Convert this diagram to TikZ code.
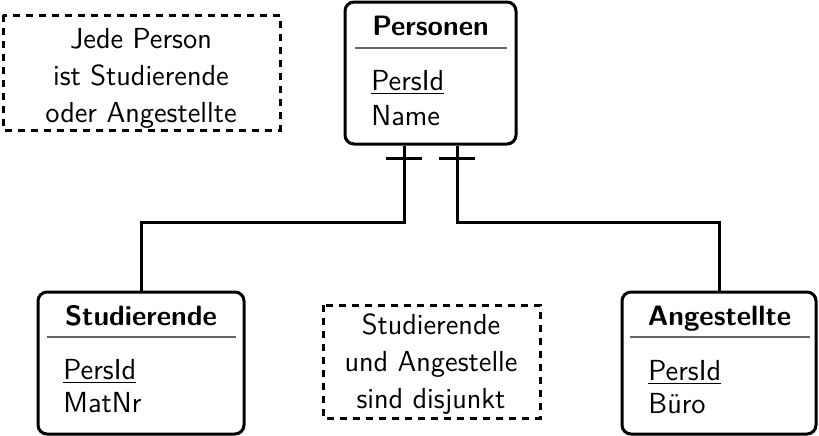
\documentclass[tikz,border=0pt]{standalone}
\usetikzlibrary{calc}
\renewcommand{\familydefault}{\sfdefault}
\begin{document}
\begin{tikzpicture}[x=0.5pt,y=-0.5pt,
  entity/.style={draw, line width=1.5pt, rounded corners=4.5pt, inner sep=0pt},
  notebox/.style={line width=1.5pt, dash pattern=on 3.5pt off 3pt},
  note/.style={inner sep=0pt, align=center,
    font=\fontsize{14.5}{18.5}\selectfont},
  ttl/.style={anchor=base, inner sep=0pt, font=\fontsize{14}{17}\selectfont\bfseries},
  attr/.style={anchor=base west, inner sep=0pt, font=\fontsize{14.5}{17}\selectfont},
  sep/.style={draw=black!60, line width=0.6pt},
  conn/.style={line width=1.5pt},
  bar/.style={line width=1.5pt}]
\useasboundingbox (0,0) rectangle (819,435);
% entities
\node[entity, minimum width=85.5pt, minimum height=71pt] (pers) at (430.5,73) {};
\node[entity, minimum width=103pt, minimum height=71pt] (stud) at (141,363) {};
\node[entity, minimum width=97pt, minimum height=71pt] (ang) at (719,363) {};
% titles
\node[ttl] (perst) at (430.5,35) {Personen};
\node[ttl] (studt) at (141,325) {Studierende};
\node[ttl] (angt) at (719.5,325) {Angestellte};
\draw[sep] (355,48) -- (507,48);
\draw[sep] (47,337) -- (236,337);
\draw[sep] (630,337) -- (810,337);
% attributes
\node[attr] (pid1) at (371,90) {\underline{PersId}};
\node[attr] (pname) at (371,125) {Name};
\node[attr] (pid2) at (63,379) {\underline{PersId}};
\node[attr] (matnr) at (63,412) {MatNr};
\node[attr] (pid3) at (648,380) {\underline{PersId}};
\node[attr] (buero) at (648,413) {Büro};
% notes
\node[note] (n1) at (141,78) {Jede Person\\ist Studierende\\oder Angestellte};
\draw[notebox] (3,15) rectangle (280,130);
\node[note] (n2) at (431,364) {Studierende\\und Angestelle\\sind disjunkt};
\draw[notebox] (323,305) rectangle (540,418);
% connectors
\coordinate (pl) at ($(pers.south)+(-26.5,0)$);
\coordinate (pr) at ($(pers.south)+(26.5,0)$);
\draw[conn] (pl) -- ++(0,77) -| (stud.north);
\draw[conn] (pr) -- ++(0,77) -| (ang.north);
\draw[bar] ($(pl)+(-18,13)$) -- ($(pl)+(18,13)$);
\draw[bar] ($(pr)+(-18,13)$) -- ($(pr)+(18,13)$);
\end{tikzpicture}
\end{document}
